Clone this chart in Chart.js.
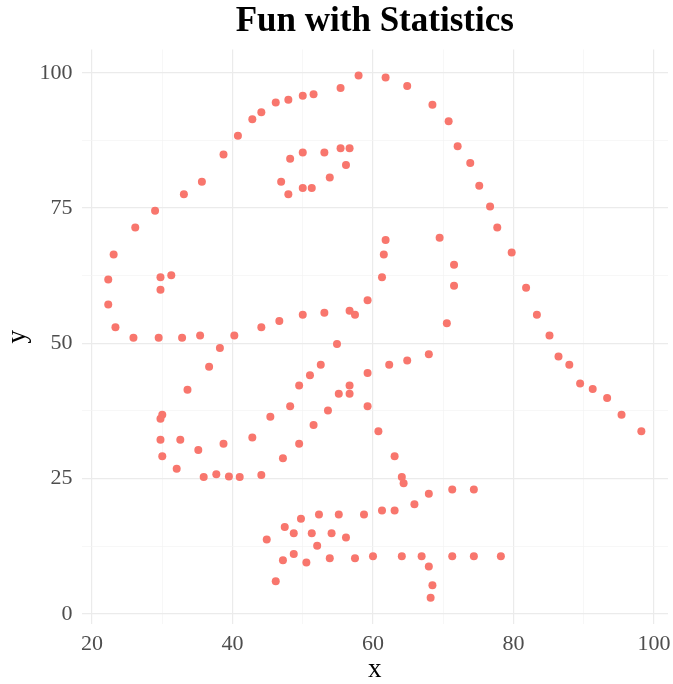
<!DOCTYPE html>
<html>
<head>
<meta charset="utf-8">
<script src="https://cdn.jsdelivr.net/npm/chart.js@4.4.1/dist/chart.umd.min.js"></script>
<style>
  html, body { margin: 0; background: #fff; }
</style>
</head>
<body>
<canvas id="chart" width="673" height="684"></canvas>
<script>
// Datasaurus "dino" points
const xValues = [55.3846,51.5385,46.1538,42.8205,40.7692,38.7179,35.641,33.0769,28.9744,26.1538,23.0769,22.3077,22.3077,23.3333,25.8974,29.4872,32.8205,35.3846,40.2564,44.1026,46.6667,50,53.0769,56.6667,59.2308,61.2821,61.5385,61.7949,57.4359,54.8718,52.5641,48.2051,49.4872,51.0256,45.3846,42.8205,38.7179,35.1282,32.5641,30,33.5897,36.6667,38.2051,29.7436,29.7436,30,32.0513,35.8974,41.0256,44.1026,47.1795,49.4872,51.5385,53.5897,55.1282,56.6667,59.2308,62.3077,64.8718,67.9487,70.5128,71.5385,71.5385,69.4872,46.9231,48.2051,50,53.0769,55.3846,56.6667,56.1538,53.8462,51.2821,50,47.9487,29.7436,29.7436,31.2821,57.9487,61.7949,64.8718,68.4615,70.7692,72.0513,73.8462,75.1282,76.6667,77.6923,79.7436,81.7949,83.3333,85.1282,86.4103,87.9487,89.4872,93.3333,95.3846,98.2051,56.6667,59.2308,60.7692,63.0769,64.1026,64.359,74.359,71.2821,67.9487,65.8974,63.0769,61.2821,58.7179,55.1282,52.3077,49.7436,47.4359,44.8718,48.7179,51.2821,54.1026,56.1538,52.0513,48.7179,47.1795,46.1538,50.5128,53.8462,57.4359,60,64.1026,66.9231,71.2821,74.359,78.2051,67.9487,68.4615,68.2051,37.6923,39.4872,91.2821,50,47.9487,44.1026];
const yValues = [97.1795,96.0256,94.4872,91.4103,88.3333,84.8718,79.8718,77.5641,74.4872,71.4103,66.4103,61.7949,57.1795,52.9487,51.0256,51.0256,51.0256,51.4103,51.4103,52.9487,54.1026,55.2564,55.641,56.0256,57.9487,62.1795,66.4103,69.1026,55.2564,49.8718,46.0256,38.3333,42.1795,44.1026,36.4103,32.5641,31.4103,30.2564,32.1795,36.7949,41.4103,45.641,49.1026,36.0256,32.1795,29.1026,26.7949,25.2564,25.2564,25.641,28.718,31.4103,34.8718,37.5641,40.641,42.1795,44.4872,46.0256,46.7949,47.9487,53.718,60.641,64.4872,69.4872,79.8718,84.1026,85.2564,85.2564,86.0256,86.0256,82.9487,80.641,78.718,78.718,77.5641,59.8718,62.1795,62.5641,99.4872,99.1026,97.5641,94.1026,91.0256,86.4103,83.3333,79.1026,75.2564,71.4103,66.7949,60.2564,55.2564,51.4103,47.5641,46.0256,42.5641,39.8718,36.7949,33.718,40.641,38.3333,33.718,29.1026,25.2564,24.1026,22.9487,22.9487,22.1795,20.2564,19.1026,19.1026,18.3333,18.3333,18.3333,17.5641,16.0256,13.7179,14.8718,14.8718,14.8718,14.1026,12.5641,11.0256,9.8718,6.0256,9.4872,10.2564,10.2564,10.641,10.641,10.641,10.641,10.641,10.641,8.718,5.2564,2.9487,25.7692,25.3846,41.5385,95.7692,95,92.6923];

const xTicks = [20, 40, 60, 80, 100];
const yTicks = [0, 25, 50, 75, 100];
const xMinor = [30, 50, 70, 90];
const yMinor = [12.5, 37.5, 62.5, 87.5];

const points = xValues.map((x, i) => ({ x: x, y: yValues[i] }));

const serif = "'Liberation Serif', 'DejaVu Serif', serif";
const tickFont = { family: serif, size: 22 };
const axisTitleFont = { family: serif, size: 27, lineHeight: 1 };

function gridTicks(major, minor) {
  return (scale) => {
    scale.ticks = major.concat(minor).sort((a, b) => a - b).map(v => ({ value: v }));
  };
}

function gridColor(major) {
  return (ctx) => major.includes(ctx.tick.value) ? '#ebebeb' : '#f3f3f3';
}
function gridWidth(major) {
  return (ctx) => major.includes(ctx.tick.value) ? 1.2 : 0.7;
}

new Chart(document.getElementById('chart'), {
  type: 'scatter',
  data: {
    datasets: [{
      data: points,
      backgroundColor: '#F8766D',
      borderWidth: 0,
      pointRadius: 4
    }]
  },
  options: {
    responsive: false,
    animation: false,
    layout: { padding: { left: 0, right: 5, top: 0, bottom: 0 } },
    plugins: {
      legend: { display: false },
      tooltip: { enabled: false },
      title: {
        display: true,
        text: 'Fun with Statistics',
        fullSize: false,
        color: '#000',
        font: { family: serif, size: 35, weight: 'bold', lineHeight: 1.2 },
        padding: { top: 0.5, bottom: 7 }
      }
    },
    scales: {
      x: {
        type: 'linear',
        min: 18.5,
        max: 102,
        afterBuildTicks: gridTicks(xTicks, xMinor),
        afterFit: (s) => { s.height = 60; s.paddingLeft = 0; s.paddingRight = 0; },
        border: { display: false },
        grid: { color: gridColor(xTicks), lineWidth: gridWidth(xTicks), drawTicks: false },
        ticks: {
          autoSkip: false,
          maxRotation: 0,
          padding: 7,
          color: '#4d4d4d',
          font: tickFont,
          callback: (v) => xTicks.includes(v) ? String(v) : ''
        },
        title: {
          display: true,
          text: 'x',
          color: '#000',
          font: axisTitleFont,
          padding: { top: 0, bottom: 1 }
        }
      },
      y: {
        type: 'linear',
        min: -1.9,
        max: 104.3,
        afterBuildTicks: gridTicks(yTicks, yMinor),
        afterFit: (s) => { s.width = 81.5; s.paddingTop = 0; s.paddingBottom = 0; },
        border: { display: false },
        grid: { color: gridColor(yTicks), lineWidth: gridWidth(yTicks), drawTicks: false },
        ticks: {
          autoSkip: false,
          padding: 9,
          color: '#4d4d4d',
          font: tickFont,
          callback: (v) => yTicks.includes(v) ? String(v) : ''
        },
        title: {
          display: true,
          text: 'y',
          color: '#000',
          font: axisTitleFont,
          padding: { top: 4, bottom: 0 }
        }
      }
    }
  }
});
</script>
</body>
</html>
